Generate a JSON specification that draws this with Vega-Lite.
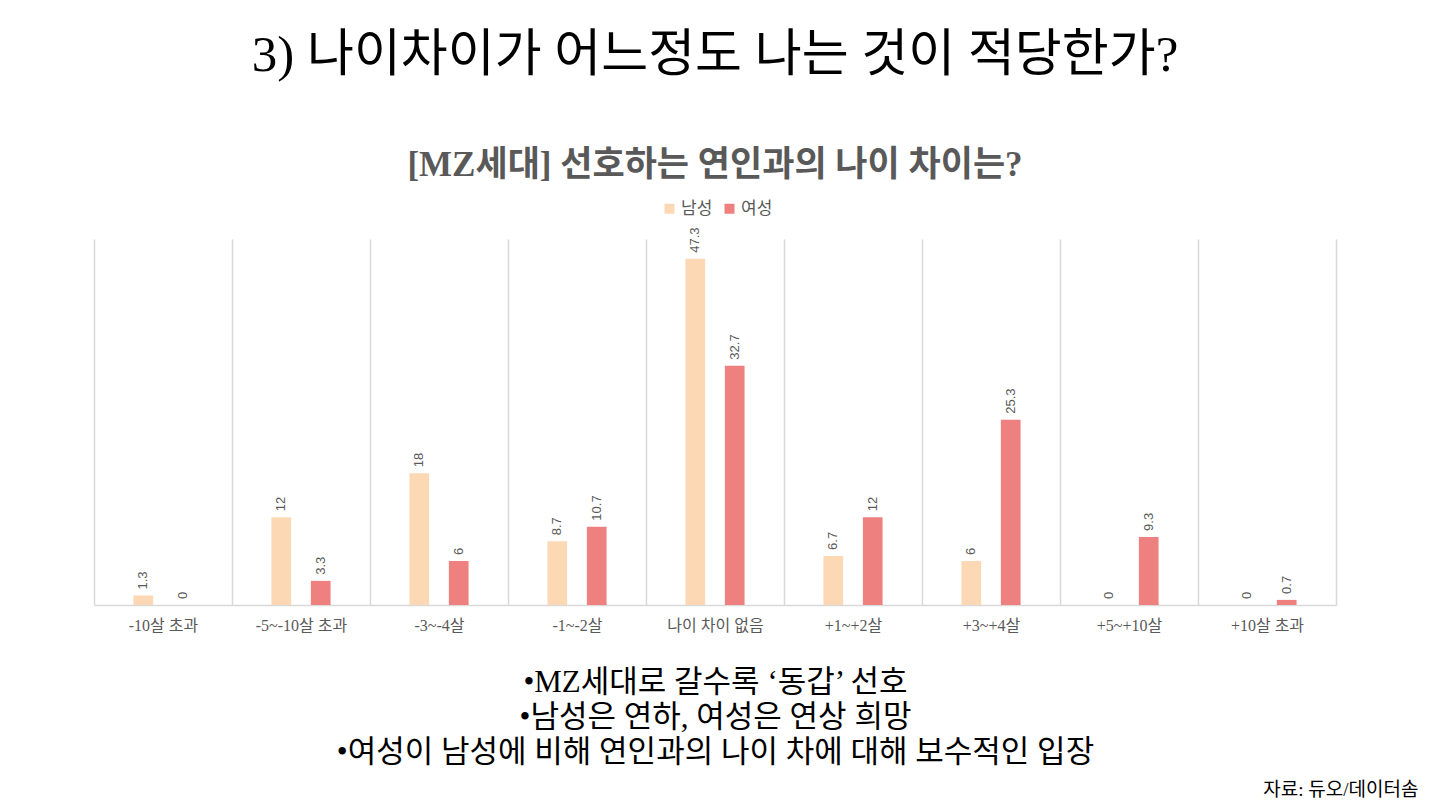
{
  "$schema": "https://vega.github.io/schema/vega-lite/v6.json",
  "autosize": {"type": "none"},
  "width": 1242,
  "height": 366,
  "padding": {"left": 94, "top": 239, "right": 94, "bottom": 199},
  "background": "white",
  "title": {
    "text": "3) 나이차이가 어느정도 나는 것이 적당한가?",
    "subtitle": "[MZ세대] 선호하는 연인과의 나이 차이는?",
    "anchor": "middle",
    "frame": "group",
    "font": "Liberation Serif, Noto Sans CJK KR",
    "fontSize": 51,
    "fontWeight": "normal",
    "color": "#000000",
    "subtitleFont": "Liberation Serif, Noto Sans CJK KR",
    "subtitleFontSize": 35,
    "subtitleFontWeight": "bold",
    "subtitleColor": "#595959",
    "subtitlePadding": 66,
    "offset": 16
  },
  "config": {"view": {"stroke": null}},
  "data": {
    "values": [
      {"category": "-10살 초과", "gender": "남성", "value": 1.3},
      {"category": "-10살 초과", "gender": "여성", "value": 0},
      {"category": "-5~-10살 초과", "gender": "남성", "value": 12},
      {"category": "-5~-10살 초과", "gender": "여성", "value": 3.3},
      {"category": "-3~-4살", "gender": "남성", "value": 18},
      {"category": "-3~-4살", "gender": "여성", "value": 6},
      {"category": "-1~-2살", "gender": "남성", "value": 8.7},
      {"category": "-1~-2살", "gender": "여성", "value": 10.7},
      {"category": "나이 차이 없음", "gender": "남성", "value": 47.3},
      {"category": "나이 차이 없음", "gender": "여성", "value": 32.7},
      {"category": "+1~+2살", "gender": "남성", "value": 6.7},
      {"category": "+1~+2살", "gender": "여성", "value": 12},
      {"category": "+3~+4살", "gender": "남성", "value": 6},
      {"category": "+3~+4살", "gender": "여성", "value": 25.3},
      {"category": "+5~+10살", "gender": "남성", "value": 0},
      {"category": "+5~+10살", "gender": "여성", "value": 9.3},
      {"category": "+10살 초과", "gender": "남성", "value": 0},
      {"category": "+10살 초과", "gender": "여성", "value": 0.7}
    ]
  },
  "encoding": {
    "x": {
      "field": "category",
      "type": "nominal",
      "sort": null,
      "scale": {"paddingInner": 0, "paddingOuter": 0},
      "axis": {
        "title": ["•MZ세대로 갈수록 ‘동갑’ 선호", "•남성은 연하, 여성은 연상 희망", "•여성이 남성에 비해 연인과의 나이 차에 대해 보수적인 입장"],
        "titleFont": "Liberation Serif, Noto Sans CJK KR",
        "titleFontSize": 31,
        "titleFontWeight": "normal",
        "titleColor": "#000000",
        "titleLineHeight": 35,
        "titlePadding": 34,
        "labelAngle": 0,
        "labelFont": "Liberation Serif, Noto Sans CJK KR",
        "labelFontSize": 16,
        "labelColor": "#595959",
        "labelPadding": 12,
        "ticks": false,
        "tickBand": "extent",
        "grid": true,
        "gridColor": "#d9d9d9",
        "gridWidth": 1.5,
        "domainColor": "#d9d9d9",
        "domainWidth": 1.5
      }
    },
    "xOffset": {
      "field": "gender",
      "type": "nominal",
      "sort": ["남성", "여성"],
      "scale": {"paddingInner": 0.5, "paddingOuter": 1.1667}
    },
    "y": {
      "field": "value",
      "type": "quantitative",
      "scale": {"domain": [0, 50]},
      "axis": {
        "orient": "right",
        "labels": false,
        "ticks": false,
        "domain": false,
        "grid": false,
        "title": "자료: 듀오/데이터솜",
        "titleAngle": 0,
        "titleAlign": "right",
        "titleBaseline": "middle",
        "titleX": 82,
        "titleY": 550,
        "titleFont": "Liberation Serif, Noto Sans CJK KR",
        "titleFontSize": 19,
        "titleFontWeight": "normal",
        "titleColor": "#000000"
      }
    }
  },
  "layer": [
    {
      "mark": {"type": "bar"},
      "encoding": {
        "color": {
          "field": "gender",
          "type": "nominal",
          "sort": ["남성", "여성"],
          "scale": {"domain": ["남성", "여성"], "range": ["#fdd8b5", "#ef8080"]},
          "legend": {
            "orient": "none",
            "direction": "horizontal",
            "legendX": 567,
            "legendY": -39,
            "title": null,
            "symbolType": "square",
            "symbolSize": 100,
            "symbolStrokeWidth": 0,
            "labelFont": "Liberation Serif, Noto Sans CJK KR",
            "labelFontSize": 17,
            "labelColor": "#595959",
            "columnPadding": 8,
            "labelOffset": 3
          }
        }
      }
    },
    {
      "mark": {
        "type": "text",
        "angle": 270,
        "align": "left",
        "baseline": "middle",
        "dx": 6,
        "font": "Liberation Sans, Noto Sans CJK KR",
        "fontSize": 13,
        "color": "#595959"
      },
      "encoding": {
        "text": {"field": "value", "type": "quantitative"}
      }
    }
  ]
}
